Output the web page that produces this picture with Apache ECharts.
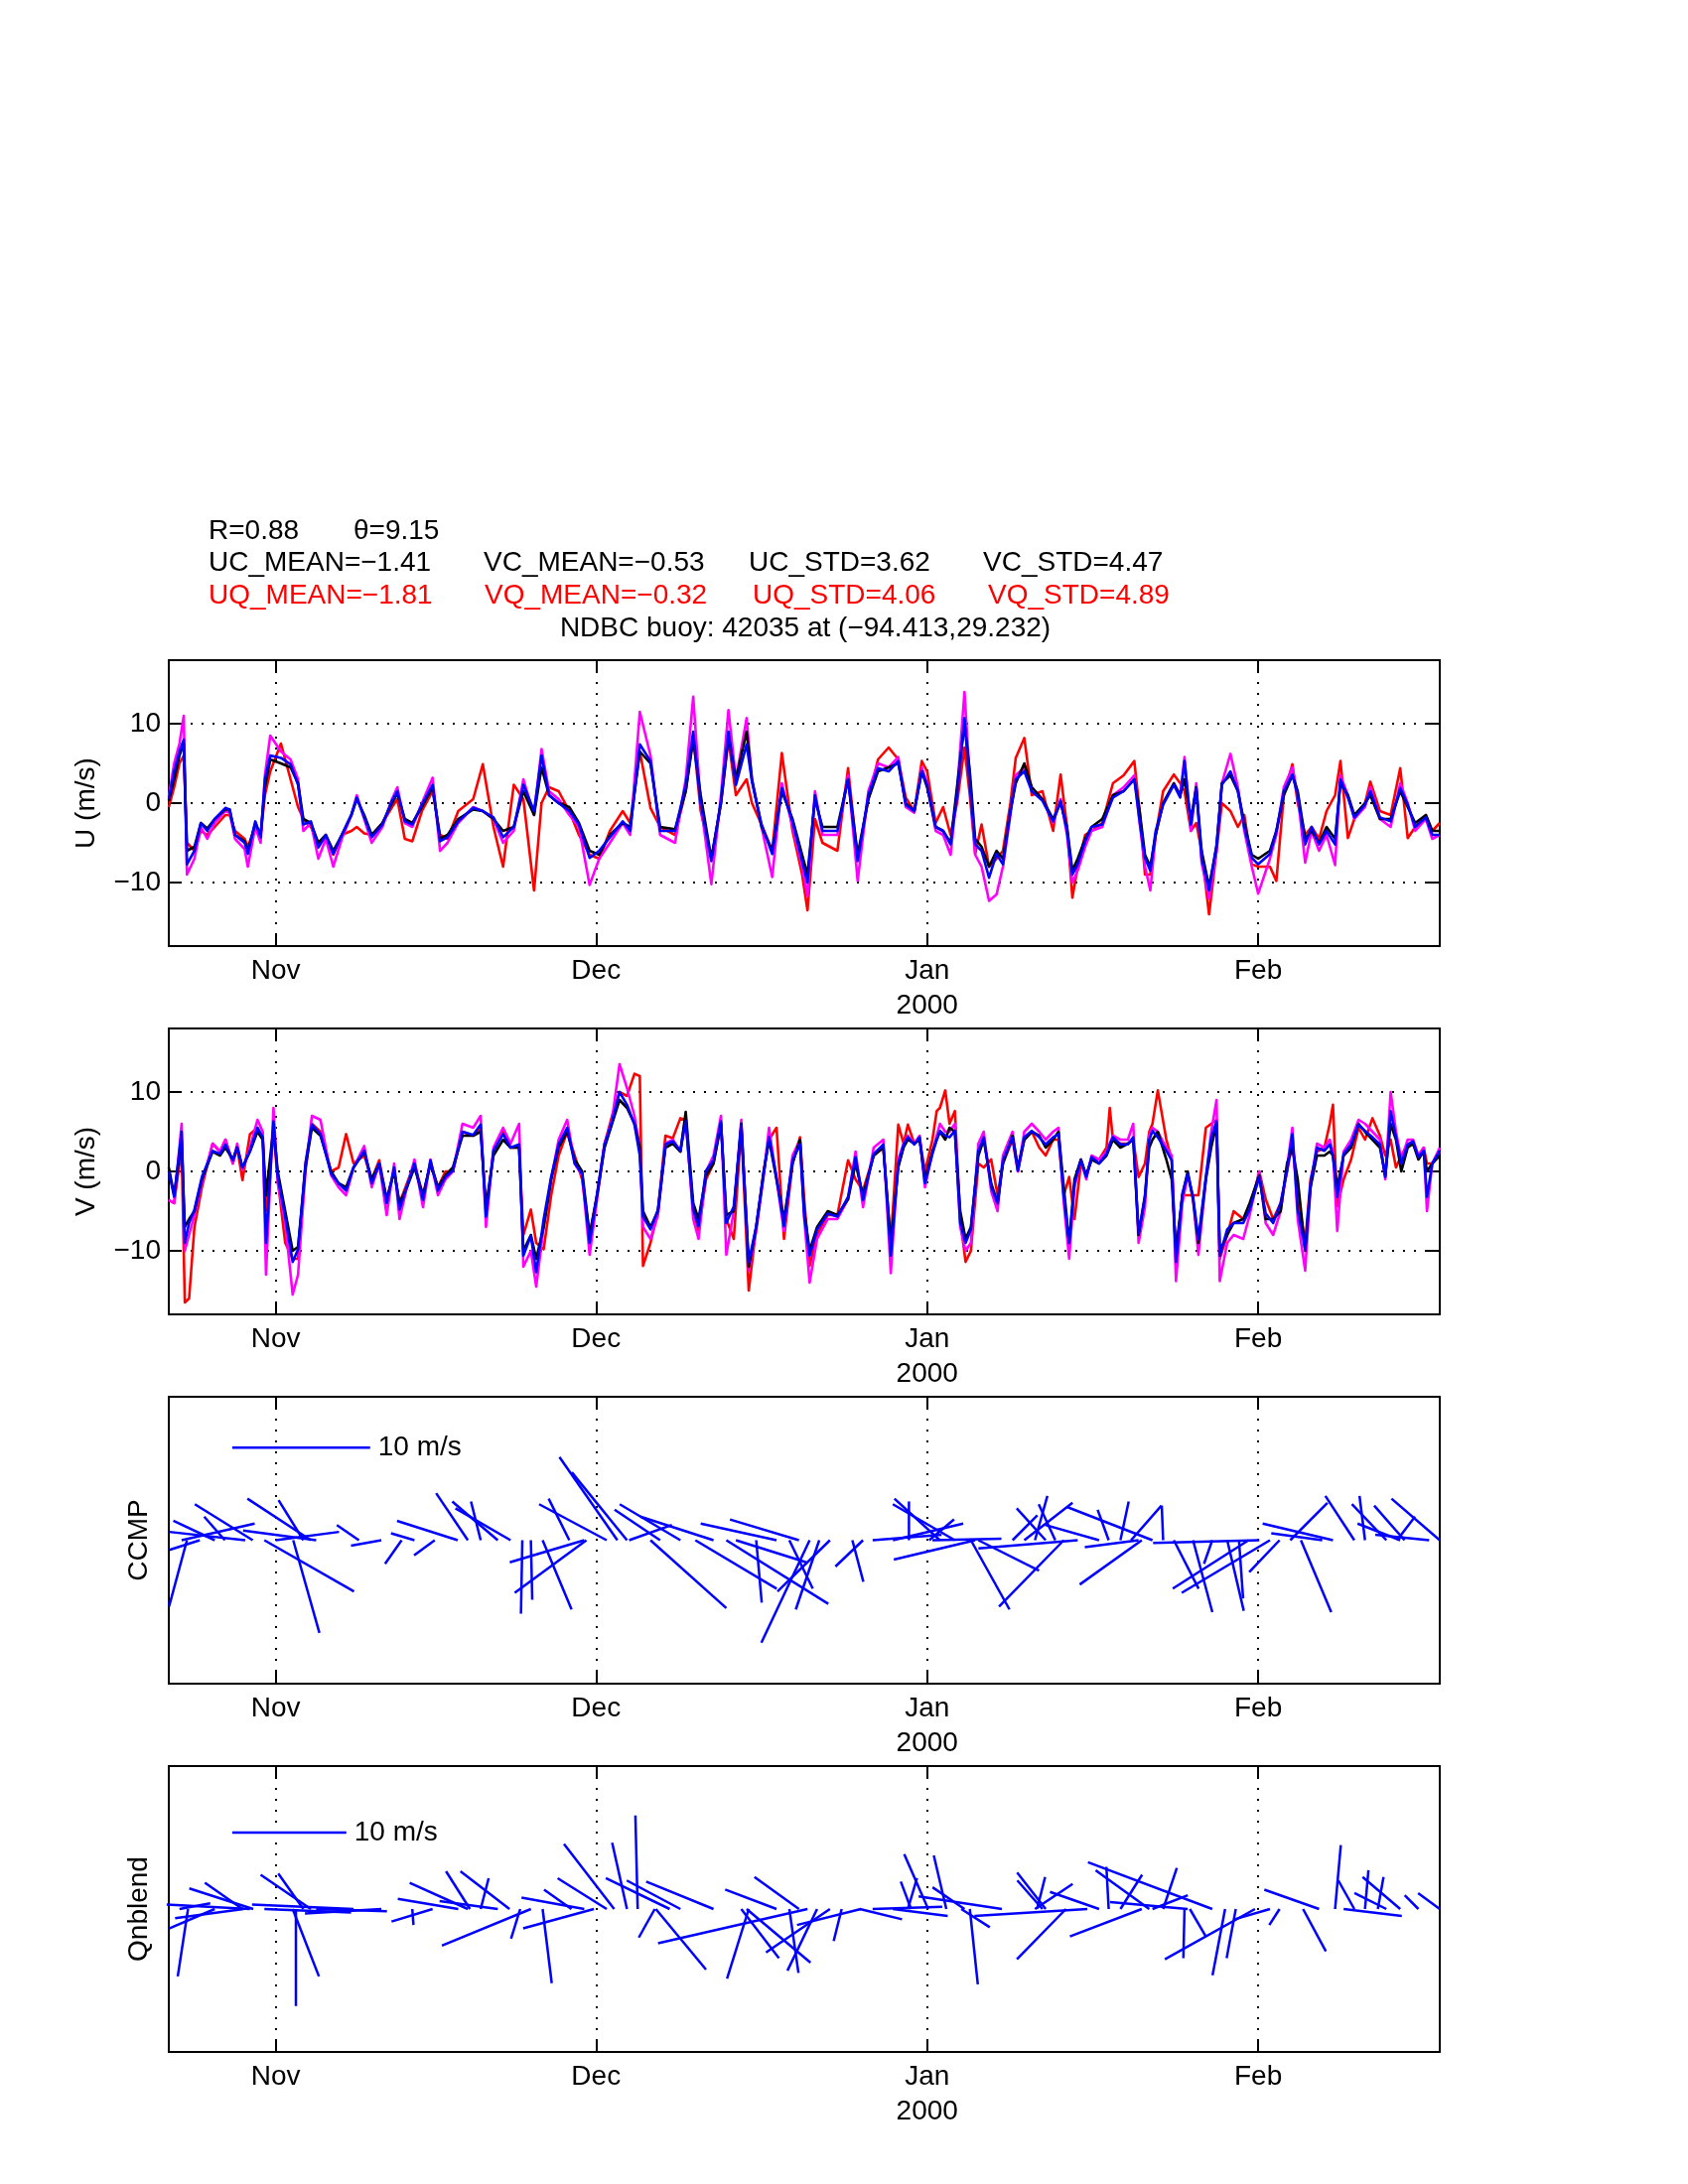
<!DOCTYPE html>
<html><head><meta charset="utf-8">
<script src="https://cdn.jsdelivr.net/npm/echarts@6/dist/echarts.min.js"></script>
<style>html,body{margin:0;padding:0;background:#fff}#c{width:1700px;height:2200px}</style>
</head><body><div id="c"></div>
<script>
const FONT = 'Liberation Sans, Arial, Helvetica, sans-serif';
// x axis: days since 22 Oct 1999
const monthDays = [10, 40, 71, 102];
const monthNames = ['Nov', 'Dec', 'Jan\n2000', 'Feb'];
const yTicks = [-10, 0, 10];

// ---------- U panel ----------
const uDays = [0,0.5,1.0,1.4,1.7,2.4,3.0,3.6,4.3,5.3,5.7,6.2,7.1,7.4,8.1,8.6,9.0,9.5,10.5,11.4,12.1,12.6,13.3,14.0,14.7,15.4,16.2,17.1,17.6,18.3,19.0,20.0,20.9,21.4,22.1,22.8,23.7,24.7,25.4,26.1,27.1,28.5,29.4,30.4,31.3,32.3,33.2,34.2,34.9,35.6,36.5,37.5,38.4,39.4,40.3,41.3,42.5,43.2,44.1,45.1,46.0,47.4,48.4,49.1,49.8,50.8,51.7,52.4,53.1,54.1,54.6,55.5,56.5,57.4,58.4,59.3,59.8,60.5,61.2,62.6,63.6,64.5,65.5,66.4,67.4,68.3,69.0,69.8,70.5,71.0,71.8,72.5,73.2,73.8,74.5,75.0,75.5,76.1,76.8,77.5,78.1,78.8,79.3,80.1,80.8,81.8,82.8,83.5,84.1,84.6,85.1,85.8,86.4,87.4,88.4,89.4,90.4,90.9,91.4,91.9,92.4,93.1,94.1,94.7,95.1,95.7,96.2,96.7,97.4,98.1,98.6,99.4,100.1,100.7,101.4,102.0,103.1,103.7,104.4,105.2,105.7,106.4,107.0,107.7,108.4,109.2,109.7,110.4,111.0,112.0,112.5,113.4,114.4,115.3,116.0,116.7,117.7,118.3,119.0];
const uBlue = [0.5,4,6.5,8,-7.7,-6,-2.5,-3.5,-2,-0.6,-0.8,-4,-5,-6.4,-2.3,-4.3,3,6,5.7,4.9,2.3,-2.7,-2.3,-5.6,-4,-6.4,-4,-1.4,0.7,-1.8,-4.3,-2.7,0.3,1.5,-2.3,-2.7,-0.2,2.3,-4.8,-4.3,-2.3,-0.6,-1,-1.8,-4.3,-3,2.3,-1,6,1,0,-1,-2.7,-6.9,-6,-4.3,-2.3,-3.5,7.4,5.3,-3.5,-3.5,2.3,9,0,-7.3,0.3,9,2.3,7.4,2.7,-2.7,-6.4,1.9,-2.3,-7.3,-10,1,-3.5,-3.5,3,-7.3,1,4.4,4,5.3,-0.2,-1,4,2.3,-3,-3.5,-5.2,1,10.7,2.3,-5.2,-6,-9.4,-6.4,-7.7,-1,3,4,1.5,0.3,-2.3,0.3,-3.5,-9,-7.7,-4.8,-3,-2.7,0.7,1.5,3,-2.3,-6.9,-8.5,-3.5,-0.2,2.3,0.7,5.3,-2.7,1.9,-6.9,-11,-5.2,2.3,4,1.5,-3,-6.9,-7.7,-6.4,-3.5,1.5,3.6,1,-5.2,-3,-5.2,-3.5,-5.2,3,0.7,-1.8,-0.2,1.5,-1.8,-2.3,1.9,-0.2,-3,-1.8,-4,-4];
const uBlack = [0.3,3,6,7.5,-6,-5.5,-2.5,-3.2,-2,-0.8,-0.8,-4,-4.8,-6,-2.5,-4,2,5.5,5,4.5,2.5,-2,-2.5,-5,-4,-6,-4,-1.5,0.5,-1.5,-4,-2.5,0,1.2,-2,-2.5,-0.5,2,-4.5,-4,-2,-0.8,-1,-2,-3.5,-3,1.5,-1.5,4.5,1,0,-0.5,-2.5,-6,-6.5,-4,-2.5,-3,6.5,5,-3,-3.3,1.5,8,1,-7,0,8.5,3,9,3,-3,-6,1.5,-2,-6.5,-9,0.5,-3,-3,3,-6.5,0.5,4,4.5,5,0,-1,4,2,-3,-3.5,-5,2,10,4,-4.5,-5.5,-8,-6,-7,-1,2.5,5,2,0.5,-2,0,-3,-8.5,-7,-4.5,-3,-2,1,1.5,3,-1,-6.5,-8,-4,0,2.5,1,3,-2,2,-6,-10.5,-5.5,2.5,3.5,1.5,-2.5,-6.5,-7,-6,-3.5,1,3.5,1.5,-4.5,-3.5,-5,-3,-4.5,2.5,1,-1.5,0,1,-2,-2,1.5,-0.5,-2.5,-1.5,-3.5,-3.5];
const uMagenta = [0.8,5,7.5,11,-9,-7,-3,-4.5,-2.5,-1,-1.2,-4.5,-5.8,-8,-3,-5,3.5,8.5,6.5,5.5,3,-3.5,-2.5,-7,-4.5,-8,-4.5,-1.5,1,-2,-5,-3,0.5,2,-2.5,-3,0,3.2,-6,-5,-2.5,-0.5,-1,-2,-5,-3.5,3,-1.5,6.8,1.5,0.5,-1.5,-3,-10.3,-7,-5,-2.5,-4,11.5,6,-4,-5,3,13.4,0,-10.2,1,11.7,3,10.7,3,-3,-9.3,2.5,-3,-8,-11.7,1.5,-4,-4,3.5,-9.8,1.5,5,4.5,5.8,-0.5,-1.2,4.5,2.5,-3.5,-4,-6.5,1.5,14,3,-6.5,-8,-12.3,-11.5,-8,-1.5,3.5,4.5,2,0.5,-2.5,0.5,-4,-10,-8.5,-5.5,-3.5,-3,1,2,3.5,-2.5,-8,-11,-4,0,2.5,1,5.8,-3.5,2.5,-7.5,-12,-6,2.5,6.2,2,-3.5,-8,-11.4,-7,-4,2,4.5,1,-7.5,-3.5,-6,-4,-7.8,3.5,1,-2,-0.5,2,-2,-3,2.5,0,-3.5,-2,-4.5,-4];
const uRed = [-0.5,2,5,6,-5,-6,-3.5,-4,-3,-1.5,-1.5,-3.5,-4.5,-5.5,-3,-4,1,4,7.5,3,-0.5,-2,-3,-5,-4.5,-6.5,-4,-3.5,-3,-3.8,-4,-2.5,-0.5,0.5,-4.5,-4.8,-1,1.5,-4,-4.5,-1,0.5,4.9,-3,-8,2.3,0.5,-11,0,2,1.5,-1,-4,-6.5,-7,-3.5,-1,-2.5,6.5,-0.6,-3,-4,1.5,8.5,-1,-7,0,8,1,3,0,-2.7,-6,6.3,-3.5,-9,-13.5,-2,-5,-6,4.4,-7,0.5,5.5,7,5.5,0.7,-1,5.3,4,-2.5,-0.5,-4,0,7,1,-6.4,-2.7,-8,-7,-6,0,5.7,8.2,1,1.5,-3.5,3.6,-3,-11.9,-8,-4,-3.5,-2.5,2.5,3.5,5.3,-1,-9,-9,-4,1.5,3.6,2.5,1.5,-3.5,-2.5,-6,-14,-6,0,-1,-3,-1.5,-7.7,-8,-8,-9.8,1,4.9,0,-4,-3,-4.5,-1,1,5.3,-4.4,-2,0,2.7,-1,-1.5,4.4,-4.4,-3,-1.5,-3.5,-2.5];

// ---------- V panel ----------
const vDays = [0,0.5,1.2,1.5,1.9,2.4,3.1,4.1,4.8,5.3,6.0,6.4,6.9,7.6,8.3,8.8,9.1,9.8,10.2,10.9,11.6,12.1,12.8,13.4,14.2,15.2,15.9,16.6,17.3,18.3,19.0,19.7,20.4,21.1,21.6,22.3,23.0,23.8,24.5,25.2,25.9,26.6,27.5,28.5,29.2,29.7,30.4,31.3,32.0,32.8,33.2,33.9,34.4,35.1,35.8,36.5,37.3,38.0,38.7,39.4,40.1,40.8,41.5,42.2,42.9,43.6,44.1,44.4,45.1,45.8,46.5,47.2,47.9,48.4,49.1,49.6,50.3,51.0,51.7,52.2,52.9,53.6,54.3,55.0,55.7,56.2,56.9,57.6,58.4,59.1,59.5,60.0,60.7,61.7,62.6,63.6,64.3,65.0,66.0,66.9,67.6,68.3,68.8,69.2,69.8,70.3,70.8,71.5,71.9,72.2,72.7,73.1,73.6,74.1,74.6,75.1,75.8,76.3,77.0,77.6,78.1,79.0,79.5,80.1,80.8,81.5,82.1,82.8,83.3,83.8,84.3,84.8,85.4,85.9,86.4,87.1,87.8,88.1,88.4,89.1,89.8,90.3,90.8,91.4,91.8,92.1,92.6,93.4,93.9,94.3,94.9,95.4,95.9,96.4,97.1,97.6,98.1,98.4,99.1,99.7,100.6,101.2,102.1,102.7,103.4,104.1,104.7,105.2,105.7,106.4,106.9,107.5,108.2,108.7,109.0,109.4,110.0,110.7,111.4,112.0,112.7,113.4,113.9,114.4,114.9,115.4,116.0,116.5,117.0,117.5,117.8,118.3,119.0];
const vBlue = [0,-3.2,5,-9,-6.5,-4.8,-0.7,2.6,2.2,3.4,1.4,3,0.5,2.6,5.5,4.3,-9,6.3,-0.7,-5.7,-11.4,-9.8,1,5.9,4.7,-0.3,-1.5,-2.4,0.5,2.6,-1.5,1,-4,0.5,-4.8,-1.9,1,-3.6,1.4,-2.4,-0.7,0.1,5,4.6,5.9,-5.7,2.6,4.7,3,3.4,-10.6,-8.1,-12.7,-6,-0.7,3.4,5.5,1,-0.3,-9,-2.8,3.4,6.3,10,8.4,5.9,2,-5.7,-7.3,-4.8,3.4,3.8,2.6,6.3,-4.8,-6.9,0.1,1.4,6.3,-6.5,-4.4,5.9,-11.4,-6.9,-0.3,4.3,-0.7,-6.9,1.4,3.4,-5.7,-10.6,-7.3,-5.3,-5.7,-3.2,1.8,-3.6,2.2,3.4,-10.6,1,3.4,4.3,3.4,4.3,-1.5,2.2,4,5.1,4.5,4.3,5.1,-6.5,-9,-7.3,2.6,4.3,-1.9,-4,1.4,4.3,0.1,4.3,5.1,4.3,3.4,4.3,4.7,-3.2,-9,-1.5,1.4,-0.7,1.8,1,2.2,3.4,4.3,3.4,3.4,4.3,-7.8,-3.2,4,5.1,4.3,2.6,1.4,-11.4,-2.8,-0.3,-3.2,-8.5,-0.7,4.3,6.3,-10.6,-7.3,-6.5,-6.5,-4.8,-0.7,-5.3,-6.5,-4,0.1,4.7,-4.8,-9.8,-1.5,3,2.6,3.4,2,-3.2,2.2,3.4,5.9,5.1,4.3,3.4,-0.7,7.6,4.3,1,3.4,3.8,1.8,2.6,-3.2,1,2.6];
const vBlack = [0.5,-3,4,-7,-6,-5,-1,2.5,2,3,1.5,3,0.5,2.5,5,4,-3,5.5,0,-5,-10,-9.5,0.5,5.5,4.5,0,-1.5,-2,0.5,2.5,-1,1,-3.5,0,-4,-2,0.5,-3,1,-2,-0.5,0.5,4.5,4.5,5,-4.5,2,4,3,3,-10,-8,-11,-7,-1,3,5,1.5,0,-8,-3,3,6,9,8,6,3,-5,-7,-5,3,3.5,2.5,7.5,-4,-6,-0.5,1,6,-5.5,-5,6,-12,-7,0,4,-1,-6,1,4,-5,-10,-7,-5,-5.5,-3.5,1,-3,2,3,-9,0.5,3,4,3.5,4,-1,2.5,4,5,4,5.5,5,-5,-8.5,-7,2,4,-1.5,-4,1,4.5,0.5,4,5,4.5,3,4,5,-2,-9,-1,1.5,-0.5,1.5,1,2,3,4,3,3.5,4,-8,-3,3,4,5,1.5,-1,-10,-3,0,-3.5,-9,-1,3,6,-10,-8,-6.5,-6,-4,-0.5,-6,-6,-5,1,3,-1,-10,-2,2,2,2.5,2,-2,2,3,6,5,4,3,-0.5,6,4,0,3,3.5,1.5,2.5,0,1,2];
const vMagenta = [-3.6,-4,6,-10,-8,-5.5,-1.5,3.5,2.5,4,1,3.5,0.2,3,6.5,5,-13,8,-1.5,-6.5,-15.5,-13,0,7,6.5,-0.5,-2,-3,0.5,3.2,-2,1,-5.5,1,-6,-2,1.5,-4.5,1.5,-3,-1,0,6,5.5,7,-7,3,5.5,3.5,6,-12,-10,-14.5,-7,-1,4,6.5,1,-0.5,-10.5,-3.5,3.5,6.5,13.5,10.5,7,3,-7,-8.5,-5.5,3.5,4,2.5,7,-6,-8.5,0,2,7,-10.5,-5,6.5,-12.5,-7.5,-0.5,5.5,-1,-7.5,2,4,-6,-14,-8.5,-6,-6,-3.5,2.5,-4.5,3,4,-12.8,1.5,3.5,4.5,3.5,4.5,-2,2.5,4.5,6,5,5,6,-7,-10,-9,3.5,5,-2.5,-5,2,5,0,5,6,5,4,5,5.5,-4,-11,-2,1.5,-1,2,1.5,2.5,3.5,4.5,4,4,6,-9,-4.5,4.5,5.5,5,3,2,-13.8,-4,-0.5,-3.5,-10.5,-1,5,9,-13.8,-9,-8,-8.5,-5.5,0,-6.5,-8,-5,0.5,5.5,-6,-12.5,-2,3.5,3,4,2.5,-7.5,2.5,4,6.5,6,5,4,-1,10,5,1.5,4,4,2,3,-5,1,3];
const vRed = [-3.6,-4,3,-16.5,-16,-7,-2,3.5,2.5,4,1,3,-1.1,4.7,5.5,4,-5,5,-1,-9,-11,-11,1,6,5,0,0.5,4.7,1,2,-1,1.4,-3.5,0,-4,-1.5,1,-3,1,-2,0,0,5,4.5,5.5,-5,2.5,5,3,3,-8,-4.8,-9,-9.8,-3,2,5,2,-1,-8,-3,3.5,7,10,9.5,12.3,12,-11.9,-9,-5,4.5,4.2,6.7,6.5,-5,-7.5,-1,1,6,-6,-8.5,5.5,-15,-7,0,4,5.5,-8.5,1,4.3,-3.6,-11.9,-8,-5.5,-5.5,1.4,-1,-2.4,2,3,-9,5.9,3.5,5.9,3.5,4,0,4,7.6,8,10.2,6,7.6,-6,-11.4,-10,1,0.5,1.5,-3,1,4,0,4,5,3,2,4,4,-3,-0.7,-6,1,-0.5,1.5,1.5,3,8,4,3.5,3.5,4,-0.7,1,5,6,10.2,4,1.5,-11,-3,-3,-3,-3,5.5,6,6.5,-11,-8,-5,-6,-5,0,-3.5,-6,-4,0,3.5,-3,-9,-1,2.5,3,6,8.4,-4.4,-1,1.5,5.5,4,6.7,4.5,2,4,0.5,2,3.5,3.5,2,3,1,1,2.5];

// ---------- CCMP sticks (base day, u, v in m/s) ----------
const ccmpDay = [1.2,1.7,2.9,4.3,5.25,7.15,7.86,8.95,10.0,11.65,12.6,13.3,13.8,17.8,19.9,21.8,23.0,24.9,27.05,28.0,29.2,30.8,32.0,33.1,33.9,35.0,37.5,38.9,39.1,41.0,42.0,42.9,43.1,45.1,46.0,47.9,49.3,51.0,52.2,53.1,55.0,56.9,58.1,59.0,60.0,60.9,61.9,64.0,65.0,65.9,67.8,69.3,71.2,71.5,72.2,73.6,75.1,75.5,75.8,79.0,80.1,81.1,82.1,83.0,83.8,85.1,87.1,88.0,89.1,90.1,90.8,91.1,92.1,93.1,94.1,95.9,97.7,99.1,100.2,101.1,102.1,103.1,104.0,105.0,106.0,108.0,109.0,111.0,112.0,114.0,115.0,115.3,115.7,118.0,119.0];
const ccmpU = [5.3,-1.3,-2.2,-3.0,-1.5,-5.5,-4.2,6.5,4.6,1.9,-1.8,-4.6,-5.3,-1.6,-2.2,-1.2,-1.7,-1.5,-4.4,-2.3,-0.7,-3.3,-4.0,-0.1,0.1,2.1,-1.5,-5.4,-5.2,-4.9,-4.2,-4.0,3.1,5.5,-3.3,-4.4,5.9,-5.3,7.4,5.1,0.4,-5.5,1.7,-5.0,-3.5,-1.7,-3.8,0.8,-2.0,5.0,5.1,0.0,1.8,5.0,-3.3,-4.5,2.8,-5.9,4.4,1.8,3.5,0.9,-2.1,-1.2,-4.7,-7.2,-3.9,-0.8,0.6,2.2,-3.9,-4.5,-6.2,-0.1,1.8,1.4,-0.6,1.2,0.3,-5.5,-7.7,-6.4,-2.2,2.7,2.2,-3.7,-5.1,-2.1,-0.4,-2.5,1.3,-3.1,-2.2,-3.9,-3.5];
const ccmpV = [1.2,-4.8,-0.7,1.4,1.7,0.6,2.6,-3.7,0.6,-6.7,2.9,3.0,0.7,1.1,-0.4,-1.7,0.5,-1.1,1.4,3.4,2.8,2.8,2.3,-5.3,-4.3,-5.0,3.0,-1.6,-3.8,2.6,6.0,4.9,1.1,-4.9,2.2,2.6,-3.5,1.7,-4.6,-1.6,-4.5,1.2,-3.5,1.5,-7.4,-5.0,-3.7,-3.0,-1.9,0.4,1.2,2.8,1.5,0.1,3.0,2.6,-5.0,-1.4,-2.2,1.8,2.7,3.2,2.3,2.6,-4.8,-0.6,1.1,2.2,2.8,2.5,-0.5,-3.2,2.4,2.5,-3.5,-5.2,-1.7,-5.1,-4.2,-3.5,-0.2,-3.8,-2.3,2.7,-5.2,0.5,1.2,3.2,3.2,2.6,1.7,1.2,2.5,0.4,3.0];

// ---------- Qnblend sticks ----------
const qnDay = [1.0,1.8,4.3,6.9,7.0,7.6,7.9,8.95,11.6,11.9,12.6,13.3,13.8,17.3,19.9,22.8,24.7,27.1,28.0,28.2,29.2,30.8,31.9,32.9,33.9,35.0,37.7,38.9,39.8,41.0,41.7,42.9,43.9,45.5,45.6,46.9,47.9,51.0,53.6,54.1,54.3,56.9,58.1,59.0,59.8,60.7,61.9,63.0,64.7,64.8,65.9,67.8,69.2,69.5,71.1,72.8,74.2,74.5,75.0,78.0,81.1,81.3,81.8,82.1,84.0,86.0,87.1,88.0,89.1,91.1,91.8,92.1,93.1,95.1,95.4,95.6,97.7,98.9,99.9,101.7,103.1,104.0,106.2,107.7,109.2,110.0,111.0,112.0,113.2,114.0,115.3,117.0,119.0];
const qnU = [2.7,-0.9,-4.0,-3.3,-6.0,-7.3,-5.6,7.6,2.3,0.0,-2.2,-4.4,6.2,-8.9,-6.7,0.1,-3.6,-5.3,-5.1,-2.1,0.7,-5.1,-4.3,-0.8,-7.8,0.8,-2.4,-5.5,-6.2,-4.3,-4.4,-1.3,-0.2,-1.4,4.4,-5.6,-4.7,-5.9,3.3,5.6,-1.9,-4.5,0.8,-3.9,-13.1,-2.6,-5.6,-0.7,3.7,-5.6,6.1,4.8,0.8,-0.9,-2.1,-1.1,2.5,-2.8,0.7,-7.3,3.3,0.7,-2.2,-2.5,-4.3,-9.9,-4.3,-0.2,1.9,-6.3,-4.7,3.1,1.2,-0.1,-6.8,1.4,-10.9,-1.1,-0.8,-7.9,-3.1,-0.9,2.0,-4.8,0.5,5.1,-1.4,0.3,0.5,-2.8,-3.3,-1.2,-1.9];
const qnV = [0.5,-5.9,-1.7,2.3,-0.8,0.4,1.8,-0.3,-5.9,-8.5,3.1,3.0,-0.2,0.4,-0.4,-1.4,-1.1,0.9,2.3,3.3,2.7,0.7,3.3,-2.6,-3.2,-6.5,1.7,1.0,-1.7,2.7,5.7,5.8,8.2,-2.5,-5.3,2.7,2.5,2.4,-4.3,-4.7,-6.1,1.7,-5.6,2.8,-3.0,-5.4,-3.8,-2.8,-0.9,-1.4,0.2,-0.6,2.7,2.4,4.8,4.7,-1.6,1.9,-6.6,1.1,2.2,2.8,2.5,3.2,-4.4,-0.6,1.5,3.7,3.0,-2.4,3.4,1.2,3.6,-4.3,0.6,-2.4,4.1,-5.8,-4.3,-4.4,-0.9,-1.4,-3.7,1.7,5.6,-0.6,2.5,3.4,2.8,1.4,2.8,1.2,1.4];

// ---------- texts ----------
const statRows = [
  {y: 535, items: [[210, 'R=0.88', '#000'], [356, 'θ=9.15', '#000']]},
  {y: 567, items: [[210, 'UC_MEAN=−1.41', '#000'], [487, 'VC_MEAN=−0.53', '#000'], [754, 'UC_STD=3.62', '#000'], [990, 'VC_STD=4.47', '#000']]},
  {y: 600, items: [[210, 'UQ_MEAN=−1.81', '#ff0000'], [488, 'VQ_MEAN=−0.32', '#ff0000'], [758, 'UQ_STD=4.06', '#ff0000'], [995, 'VQ_STD=4.89', '#ff0000']]}
];
const subTitle = 'NDBC buoy: 42035 at (−94.413,29.232)';
const yNames = ['U (m/s)', 'V (m/s)', 'CCMP', 'Qnblend'];

// ---------- layout ----------
const L = 170, W = 1280, FS = 28;
const panels = [
  {top: 665, h: 288}, {top: 1036, h: 288}, {top: 1407, h: 289}, {top: 1779, h: 288}
];
const nameX = [87, 87, 140, 140];
const stickScale = [null, null, 1.291, 1.068];   // days per (m/s) along x
const stickYMax = [18, 18, 10.36, 12.52];
const scaleBarV = [null, null, 6.68, 6.7];
const scaleBarDay = 5.94;

const chart = echarts.init(document.getElementById('c'), null, {renderer: 'canvas', width: 1700, height: 2200});

const grids = [], xAxes = [], yAxes = [], series = [];
const dotted = {color: '#000', type: [2, 9], width: 2};
const fmtX = v => { const i = monthDays.indexOf(Math.round(v)); return i >= 0 ? monthNames[i] : ''; };
const fmtY = v => v < 0 ? '−' + Math.abs(v) : String(v);

panels.forEach((p, g) => {
  const isLine = g < 2;
  grids.push({left: L, top: p.top, width: W, height: p.h, containLabel: false});
  const xBase = {type: 'value', gridIndex: g, min: 0, max: 119,
    axisLine: {show: true, onZero: false, lineStyle: {color: '#000', width: 2}},
    axisTick: {show: true, inside: true, length: 13, customValues: monthDays, lineStyle: {color: '#000', width: 2}}};
  xAxes.push(Object.assign({}, xBase, {position: 'bottom',
    axisLabel: {show: true, customValues: monthDays, formatter: fmtX, color: '#000', fontSize: FS, fontFamily: FONT, margin: 8, lineHeight: 35},
    splitLine: {show: true, lineStyle: dotted}}));
  xAxes.push(Object.assign({}, xBase, {position: 'top', axisLabel: {show: false}, splitLine: {show: false}}));
  const ym = stickYMax[g];
  const yBase = {type: 'value', gridIndex: g, min: -ym, max: ym,
    axisLine: {show: true, onZero: false, lineStyle: {color: '#000', width: 2}},
    axisTick: {show: isLine, inside: true, length: 13, customValues: yTicks, lineStyle: {color: '#000', width: 2}}};
  yAxes.push(Object.assign({}, yBase, {position: 'left',
    axisLabel: {show: isLine, customValues: yTicks, formatter: fmtY, color: '#000', fontSize: FS, fontFamily: FONT, margin: 8},
    splitLine: {show: isLine, lineStyle: dotted}}));
  yAxes.push(Object.assign({}, yBase, {position: 'right', axisLabel: {show: false}, splitLine: {show: false}}));

  if (isLine) {
    const days = g === 0 ? uDays : vDays;
    const sets = g === 0
      ? [[uRed, '#ff0000'], [uMagenta, '#ff00ff'], [uBlack, '#000000'], [uBlue, '#0000ff']]
      : [[vRed, '#ff0000'], [vMagenta, '#ff00ff'], [vBlack, '#000000'], [vBlue, '#0000ff']];
    sets.forEach(([vals, col]) => {
      series.push({type: 'line', xAxisIndex: 2 * g, yAxisIndex: 2 * g,
        data: days.map((d, j) => [d, vals[j]]), symbol: 'none', showSymbol: false,
        lineStyle: {color: col, width: 2.6, join: 'round'}, itemStyle: {color: col}, silent: true, animation: false});
    });
  } else {
    const k = stickScale[g];
    const days = g === 2 ? ccmpDay : qnDay, us = g === 2 ? ccmpU : qnU, vs = g === 2 ? ccmpV : qnV;
    series.push({type: 'custom', xAxisIndex: 2 * g, yAxisIndex: 2 * g, clip: false, silent: true, animation: false,
      data: days.map((d, j) => [d, us[j], vs[j]]), encode: {x: 0, y: 2},
      renderItem: (params, api) => {
        const d = api.value(0), u = api.value(1), v = api.value(2);
        const a = api.coord([d, 0]), b = api.coord([d + u * k, v]);
        return {type: 'line', shape: {x1: a[0], y1: a[1], x2: b[0], y2: b[1]}, style: {stroke: '#0000ff', lineWidth: 2.5}};
      }});
    // 10 m/s reference stick
    series.push({type: 'custom', xAxisIndex: 2 * g, yAxisIndex: 2 * g, clip: false, silent: true, animation: false,
      data: [[scaleBarDay, 10, scaleBarV[g]]], encode: {x: 0, y: 2},
      renderItem: (params, api) => {
        const d = api.value(0), u = api.value(1), v = api.value(2);
        const a = api.coord([d, v]), b = api.coord([d + u * k, v]);
        return {type: 'group', children: [
          {type: 'line', shape: {x1: a[0], y1: a[1], x2: b[0], y2: b[1]}, style: {stroke: '#0000ff', lineWidth: 2.5}},
          {type: 'text', x: b[0] + 8, y: b[1], style: {text: '10 m/s', fill: '#000', font: FS + 'px ' + FONT, align: 'left', verticalAlign: 'middle'}}
        ]};
      }});
  }
});

const graphics = [];
statRows.forEach(r => r.items.forEach(([x, t, c]) => {
  graphics.push({type: 'text', x: x, y: r.y, style: {text: t, fill: c, font: FS + 'px ' + FONT, align: 'left', verticalAlign: 'middle'}});
}));
graphics.push({type: 'text', x: 811, y: 633, style: {text: subTitle, fill: '#000', font: FS + 'px ' + FONT, align: 'center', verticalAlign: 'middle'}});
panels.forEach((p, g) => {
  graphics.push({type: 'text', x: nameX[g], y: p.top + p.h / 2, rotation: Math.PI / 2,
    style: {text: yNames[g], fill: '#000', font: FS + 'px ' + FONT, align: 'center', verticalAlign: 'middle'}});
});

chart.setOption({
  animation: false,
  backgroundColor: '#ffffff',
  grid: grids, xAxis: xAxes, yAxis: yAxes, series: series,
  graphic: graphics
});
</script>
</body></html>
